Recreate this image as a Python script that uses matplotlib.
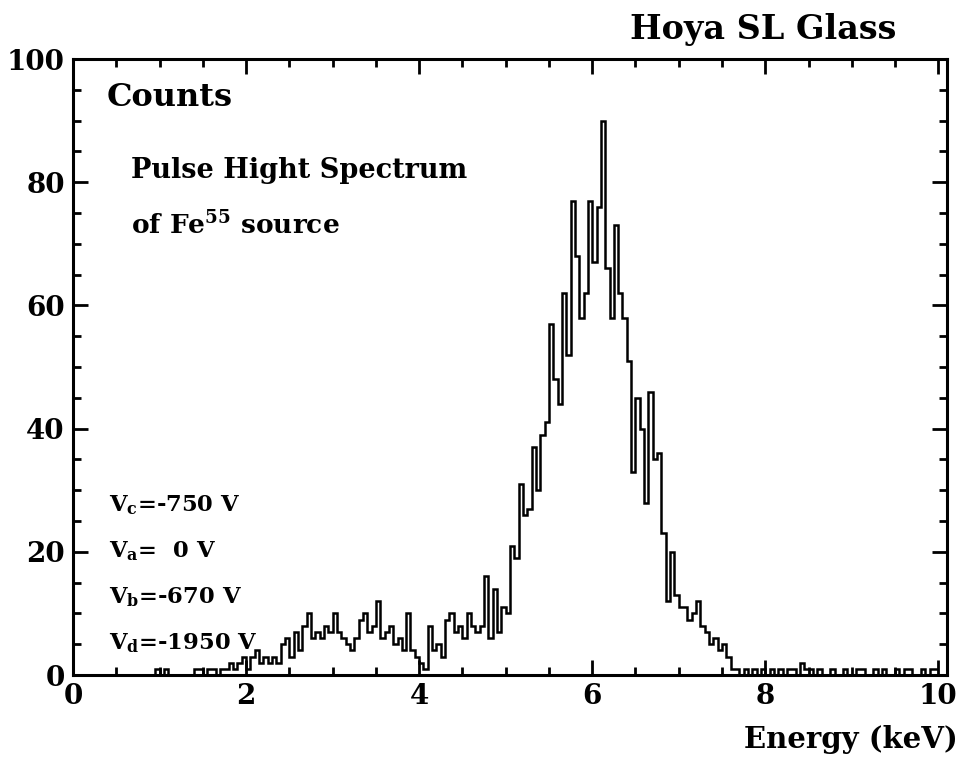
import numpy as np
import matplotlib
matplotlib.use("Agg")
import matplotlib.pyplot as plt
from matplotlib.ticker import MultipleLocator

# ------------------ DADOS ------------------
bin_width = 0.05  # keV
edges = np.arange(0, 10 + bin_width / 2, bin_width)

counts = [
    # 0.0 - 1.0 keV
    0, 0, 0, 0, 0, 0, 0, 0, 0, 0, 0, 0, 0, 0, 0, 0, 0, 0, 0, 1,
    # 1.0 - 2.0 keV
    0, 1, 0, 0, 0, 0, 0, 0, 1, 1, 0, 1, 1, 0, 1, 1, 2, 1, 2, 3,
    # 2.0 - 3.0 keV
    1, 3, 4, 2, 3, 2, 3, 2, 5, 6, 3, 7, 4, 8, 10, 6, 7, 6, 8, 7,
    # 3.0 - 4.0 keV
    10, 7, 6, 5, 4, 6, 9, 10, 7, 8, 12, 6, 7, 8, 5, 6, 4, 10, 4, 3,
    # 4.0 - 5.0 keV
    2, 1, 8, 4, 5, 3, 9, 10, 7, 8, 6, 10, 8, 7, 8, 16, 6, 14, 7, 11,
    # 5.0 - 6.0 keV
    10, 21, 19, 31, 26, 27, 37, 30, 39, 41, 57, 48, 44, 62, 52, 77, 68, 58, 62, 77,
    # 6.0 - 7.0 keV
    67, 76, 90, 66, 58, 73, 62, 58, 51, 33, 45, 40, 28, 46, 35, 36, 23, 12, 20, 13,
    # 7.0 - 8.0 keV
    11, 11, 9, 10, 12, 8, 7, 5, 6, 4, 5, 3, 1, 1, 0, 1, 0, 1, 0, 1,
    # 8.0 - 9.0 keV
    0, 1, 0, 1, 0, 1, 1, 0, 2, 1, 1, 0, 1, 0, 0, 1, 0, 0, 1, 0,
    # 9.0 - 10.0 keV
    0, 1, 1, 0, 0, 1, 0, 1, 0, 0, 1, 0, 1, 1, 0, 0, 1, 0, 1, 1,
]

x_ticks = [0, 2, 4, 6, 8, 10]
y_ticks = [0, 20, 40, 60, 80, 100]

voltages = [
    r"V$_{\mathrm{c}}$=-750 V",
    r"V$_{\mathrm{a}}$=  0 V",
    r"V$_{\mathrm{b}}$=-670 V",
    r"V$_{\mathrm{d}}$=-1950 V",
]

# ------------------ ESTILO ------------------
FONT = "DejaVu Serif"
plt.rcParams["font.family"] = FONT
plt.rcParams["font.weight"] = "bold"
plt.rcParams["mathtext.fontset"] = "custom"
plt.rcParams["mathtext.rm"] = FONT + ":bold"
plt.rcParams["mathtext.it"] = FONT + ":bold"
plt.rcParams["mathtext.bf"] = FONT + ":bold"

W, H = 968, 765
fig = plt.figure(figsize=(W / 100, H / 100), dpi=100)
ax = fig.add_axes([73 / W, 1 - 675 / H, (947 - 73) / W, (675 - 59) / H])


def px(x, y):
    """pixel da imagem -> coordenadas da figura"""
    return x / W, 1 - y / H


# ------------------ HISTOGRAMA ------------------
ax.stairs(counts, edges, color="black", linewidth=1.8, baseline=None)

ax.set_xlim(0, 10.1)
ax.set_ylim(0, 100)
ax.set_xticks(x_ticks)
ax.set_yticks(y_ticks)
ax.xaxis.set_minor_locator(MultipleLocator(0.5))
ax.yaxis.set_minor_locator(MultipleLocator(5))
ax.tick_params(which="both", direction="in", top=True, right=True, width=2,
               labelsize=20, pad=6)
ax.tick_params(which="major", length=11)
ax.tick_params(which="minor", length=6)
for lab in ax.get_xticklabels() + ax.get_yticklabels():
    lab.set_fontweight("bold")
for s in ax.spines.values():
    s.set_linewidth(2.2)

# ------------------ TEXTOS ------------------
fig.text(*px(763, 30), "Hoya SL Glass", ha="center", va="center", fontsize=24)
fig.text(*px(958, 740), "Energy (keV)", ha="right", va="center", fontsize=21)
fig.text(*px(107, 98), "Counts", ha="left", va="center", fontsize=23)
fig.text(*px(131, 171), "Pulse Hight Spectrum", ha="left", va="center", fontsize=19.5)
fig.text(*px(131, 225), r"of Fe$^{55}$ source", ha="left", va="center", fontsize=19)

for i, txt in enumerate(voltages):
    fig.text(*px(109, 505 + i * 46), txt, ha="left", va="center", fontsize=16.3)

fig.savefig("out.png", dpi=100)
